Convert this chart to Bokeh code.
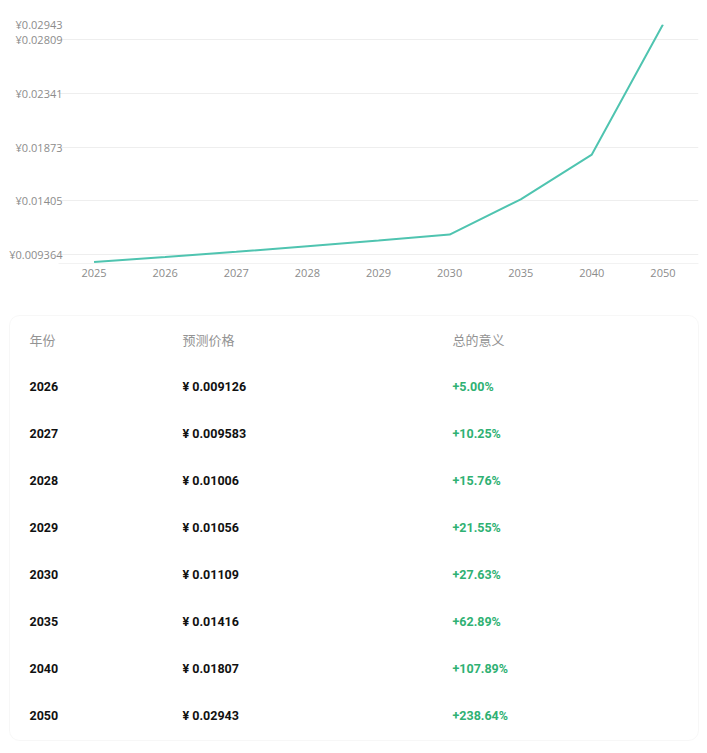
from bokeh.models import BoxAnnotation, ColumnDataSource, FactorRange, FixedTicker, Range1d
from bokeh.plotting import figure
from bokeh.embed import file_html
from bokeh.resources import INLINE
from bokeh.core.properties import value

# chart data
years = ["2025", "2026", "2027", "2028", "2029", "2030", "2035", "2040", "2050"]
prices = [0.00869, 0.009126, 0.009583, 0.01006, 0.01056, 0.01109, 0.01416, 0.01807, 0.02943]
y_ticks = [0.009364, 0.01405, 0.01873, 0.02341, 0.02809, 0.02943]
y_tick_labels = ["¥0.009364", "¥0.01405", "¥0.01873", "¥0.02341", "¥0.02809", "¥0.02943"]

# table data
table_headers = ["年份", "预测价格", "总的意义"]
table_years = ["2026", "2027", "2028", "2029", "2030", "2035", "2040", "2050"]
table_prices = ["¥ 0.009126", "¥ 0.009583", "¥ 0.01006", "¥ 0.01056",
                "¥ 0.01109", "¥ 0.01416", "¥ 0.01807", "¥ 0.02943"]
table_changes = ["+5.00%", "+10.25%", "+15.76%", "+21.55%",
                 "+27.63%", "+62.89%", "+107.89%", "+238.64%"]

W = 700
LINE_COLOR = "#4fc4b0"
GREEN = "#2fb173"
GREY = "#8c8c8c"

# ---- line chart ----
p = figure(width=W, height=293, x_range=FactorRange(*years, range_padding=0),
           y_range=Range1d(0.00856, 0.02943), output_backend="svg", toolbar_location=None,
           min_border_left=58, min_border_right=2, min_border_top=24, min_border_bottom=30)
p.outline_line_color = None
p.background_fill_color = "white"
p.border_fill_color = "white"

p.line(years, prices, line_color=LINE_COLOR, line_width=2)

p.xgrid.grid_line_color = None
p.ygrid.grid_line_color = "#eeeeee"
p.ygrid.ticker = FixedTicker(ticks=y_ticks)

p.yaxis.ticker = FixedTicker(ticks=y_ticks)
p.yaxis.major_label_overrides = {t: lab for t, lab in zip(y_ticks, y_tick_labels)}
p.yaxis.axis_line_color = None
p.yaxis.major_tick_line_color = None
p.yaxis.minor_tick_line_color = None
p.yaxis.major_label_standoff = -10
p.yaxis.major_label_text_font = "Open Sans"
p.yaxis.major_label_text_font_size = "11px"
p.yaxis.major_label_text_color = GREY

p.xaxis.axis_line_color = "#f2f2f2"
p.xaxis.major_tick_line_color = None
p.xaxis.major_label_standoff = -1
p.xaxis.major_label_text_font = "Open Sans"
p.xaxis.major_label_text_font_size = "11px"
p.xaxis.major_label_text_color = GREY

# ---- table ----
H = 458
t = figure(width=W, height=H, x_range=Range1d(0, W), y_range=Range1d(0, H),
           output_backend="svg", toolbar_location=None, min_border=0,
           x_axis_type=None, y_axis_type=None)
t.grid.grid_line_color = None
t.outline_line_color = None

card = BoxAnnotation(left=9, right=698, top=H - 22, bottom=H - 447, border_radius=10,
                     fill_color="white", fill_alpha=1, line_color="#e6e6e6", line_width=1,
                     level="underlay")
t.add_layout(card)

col_x = [29, 182, 452]
header_y = H - 46
t.text(x=col_x, y=[header_y] * 3, text=table_headers, text_font=value("Noto Sans CJK SC"),
       text_font_size="13px", text_color="#939393", text_baseline="middle")

row_y = [H - 93 - 47 * i for i in range(len(table_years))]
src = ColumnDataSource(dict(y=row_y, year=table_years, price=table_prices, change=table_changes))
t.text(x=col_x[0], y="y", text="year", source=src, text_font=value("Roboto"),
       text_font_style="bold", text_font_size="12.5px", text_color="#111111", text_baseline="middle")
t.text(x=col_x[1], y="y", text="price", source=src, text_font=value("Roboto"),
       text_font_style="bold", text_font_size="12.5px", text_color="#111111", text_baseline="middle")
t.text(x=col_x[2], y="y", text="change", source=src, text_font=value("Roboto"),
       text_font_style="bold", text_font_size="12.5px", text_color=GREEN, text_baseline="middle")

open("out.html", "w").write(file_html((p, t), INLINE))
